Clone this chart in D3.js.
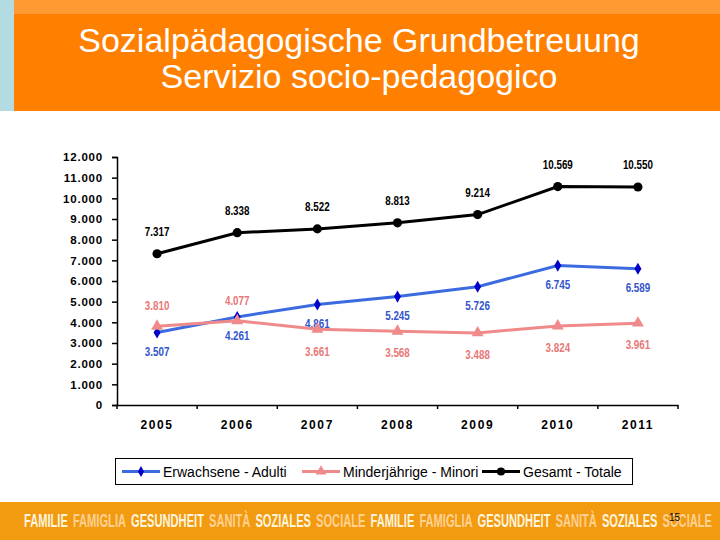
<!DOCTYPE html>
<html><head><meta charset="utf-8">
<script src="https://cdn.jsdelivr.net/npm/d3@7"></script>
<style>body{margin:0;background:#fff}svg{display:block}</style>
</head><body>
<script>
// ---- data ----
const years = ["2005","2006","2007","2008","2009","2010","2011"];
const adulti = [3507, 4261, 4861, 5245, 5726, 6745, 6589];
const minori = [3810, 4077, 3661, 3568, 3488, 3824, 3961];
const totale = [7317, 8338, 8522, 8813, 9214, 10569, 10550];
const adultiLabelPos = ["below","below","below","below","below","below","below"];
const minoriLabelPos = ["above","above","below","below","below","below","below"];
const totaleLabelPos = ["above","above","above","above","above","above","above"];
const yTicks = [0,1000,2000,3000,4000,5000,6000,7000,8000,9000,10000,11000,12000];
const seriesNames = ["Erwachsene - Adulti","Minderjährige - Minori","Gesamt - Totale"];
const titleLines = ["Sozialpädagogische Grundbetreuung","Servizio socio-pedagogico"];
const footerWords = ["FAMILIE","FAMIGLIA","GESUNDHEIT","SANITÀ","SOZIALES","SOCIALE","FAMILIE","FAMIGLIA","GESUNDHEIT","SANITÀ","SOZIALES","SOCIALE"];
const pageNumber = "15";

const W = 720, H = 540;
const svg = d3.select("body").append("svg").attr("width", W).attr("height", H);
const SANS = "Liberation Sans, Arial, sans-serif";

// header
svg.append("rect").attr("x",0).attr("y",0).attr("width",14).attr("height",111).attr("fill","#B3DCE2");
svg.append("rect").attr("x",14).attr("y",0).attr("width",W-14).attr("height",14).attr("fill","#FF9A33");
svg.append("rect").attr("x",14).attr("y",14).attr("width",W-14).attr("height",97).attr("fill","#FF8000");
svg.append("g").selectAll("text").data(titleLines).join("text")
  .attr("x",359).attr("y",(d,i)=>52+i*36).attr("text-anchor","middle")
  .attr("fill","#fff").attr("font-family",SANS).attr("font-size",34)
  .text(d=>d);

// footer
svg.append("rect").attr("x",0).attr("y",502).attr("width",W).attr("height",38).attr("fill","#F29A10");
const fg = svg.append("g");
const fWords = fg.selectAll("text").data(footerWords).join("text")
  .attr("font-family",SANS).attr("font-weight","bold").attr("font-size",17)
  .attr("fill",(d,i)=>i%2===0?"#FFF4DC":"#FFD192").text(d=>d);
const widths = [];
fWords.each(function(){ widths.push(this.getComputedTextLength()); });
const gap = 5, fStart = 24, fEnd = 712;
const sc = (fEnd - fStart - gap*(footerWords.length-1)) / d3.sum(widths);
let cur = fStart;
fWords.each(function(d,i){
  d3.select(this).attr("transform",`translate(${cur},527) scale(${sc},1.05)`);
  cur += widths[i]*sc + gap;
});
svg.append("text").attr("x",669).attr("y",521).attr("font-family",SANS)
  .attr("font-size",10).attr("fill","#000").text(pageNumber);

// scales
const x = d3.scaleBand().domain(years).range([117, 678]);
const y = d3.scaleLinear().domain([0, 12000]).range([405, 157]);
const loc = d3.formatLocale({decimal:",", thousands:".", grouping:[3], currency:["","€"]});
const fmt = loc.format(",.0f");
const cx = d => x(d) + x.bandwidth()/2;

// axes
const yAxis = svg.append("g").attr("transform","translate(117,0)")
  .call(d3.axisLeft(y).tickValues(yTicks).tickFormat(fmt).tickSizeOuter(0).tickSize(5).tickPadding(9));
yAxis.select(".domain").attr("stroke","#000").attr("stroke-width",1.5);
yAxis.selectAll(".tick line").attr("stroke","#000").attr("stroke-width",1.5);
yAxis.selectAll("text").attr("font-family",SANS).attr("font-weight","bold")
  .attr("font-size",11.5).attr("fill","#000").style("letter-spacing","0.8px");

const xAxis = svg.append("g").attr("transform","translate(0,405)")
  .call(d3.axisBottom(x).tickSize(0).tickPadding(15));
xAxis.select(".domain").attr("stroke","#000").attr("stroke-width",1.5);
xAxis.selectAll("text").attr("font-family",SANS).attr("font-weight","bold")
  .attr("font-size",12).attr("fill","#000").style("letter-spacing","1.6px");
// boundary ticks
const bounds = years.map(d=>x(d)).concat([x(years[years.length-1])+x.bandwidth()]);
svg.append("g").selectAll("line").data(bounds).join("line")
  .attr("x1",d=>d).attr("x2",d=>d).attr("y1",405).attr("y2",409).attr("stroke","#000").attr("stroke-width",1.5);

// series
const series = [
  {name:seriesNames[0], vals:adulti, pos:adultiLabelPos, line:"#3C6BE0", mark:"#0000C8", label:"#3355CC", sym:d3.symbolDiamond, size:42, above:-19, below:19},
  {name:seriesNames[1], vals:minori, pos:minoriLabelPos, line:"#F08A8A", mark:"#F08A8A", label:"#E87777", sym:d3.symbolTriangle, size:62, above:-20, below:22},
  {name:seriesNames[2], vals:totale, pos:totaleLabelPos, line:"#000000", mark:"#000000", label:"#000000", sym:d3.symbolCircle, size:66, above:-22, below:20}
];
const lineGen = d3.line().x((v,i)=>cx(years[i])).y(v=>y(v));
series.forEach(s=>{
  const g = svg.append("g");
  g.append("path").datum(s.vals).attr("d",lineGen).attr("fill","none").attr("stroke",s.line).attr("stroke-width",3);
  g.selectAll("path.m").data(s.vals).join("path").attr("class","m")
    .attr("d",d3.symbol().type(s.sym).size(s.size))
    .attr("transform",(v,i)=>`translate(${cx(years[i])},${y(v)})`).attr("fill",s.mark);
  g.selectAll("text").data(s.vals).join("text")
    .attr("transform",(v,i)=>`translate(${cx(years[i])},${y(v)+(s.pos[i]==="above"?s.above:s.below)}) scale(0.82,1)`)
    .attr("dy","0.35em").attr("text-anchor","middle")
    .attr("font-family",SANS).attr("font-weight","bold")
    .attr("font-size",12).attr("fill",s.label).text(v=>fmt(v));
});

// legend
const lg = svg.append("g");
lg.append("rect").attr("x",115.5).attr("y",458.5).attr("width",517).attr("height",26).attr("fill","#fff").attr("stroke","#000").attr("stroke-width",1);
const lx = [122, 302, 482];
series.forEach((s,i)=>{
  lg.append("line").attr("x1",lx[i]).attr("x2",lx[i]+38).attr("y1",471.5).attr("y2",471.5).attr("stroke",s.line).attr("stroke-width",3);
  lg.append("path").attr("d",d3.symbol().type(s.sym).size(s.size*0.8)).attr("transform",`translate(${lx[i]+19},471.5)`).attr("fill",s.mark);
  lg.append("text").attr("x",lx[i]+41).attr("y",476.5).attr("font-family",SANS)
    .attr("font-size",14).attr("fill","#000").text(s.name);
});
</script>
</body></html>
